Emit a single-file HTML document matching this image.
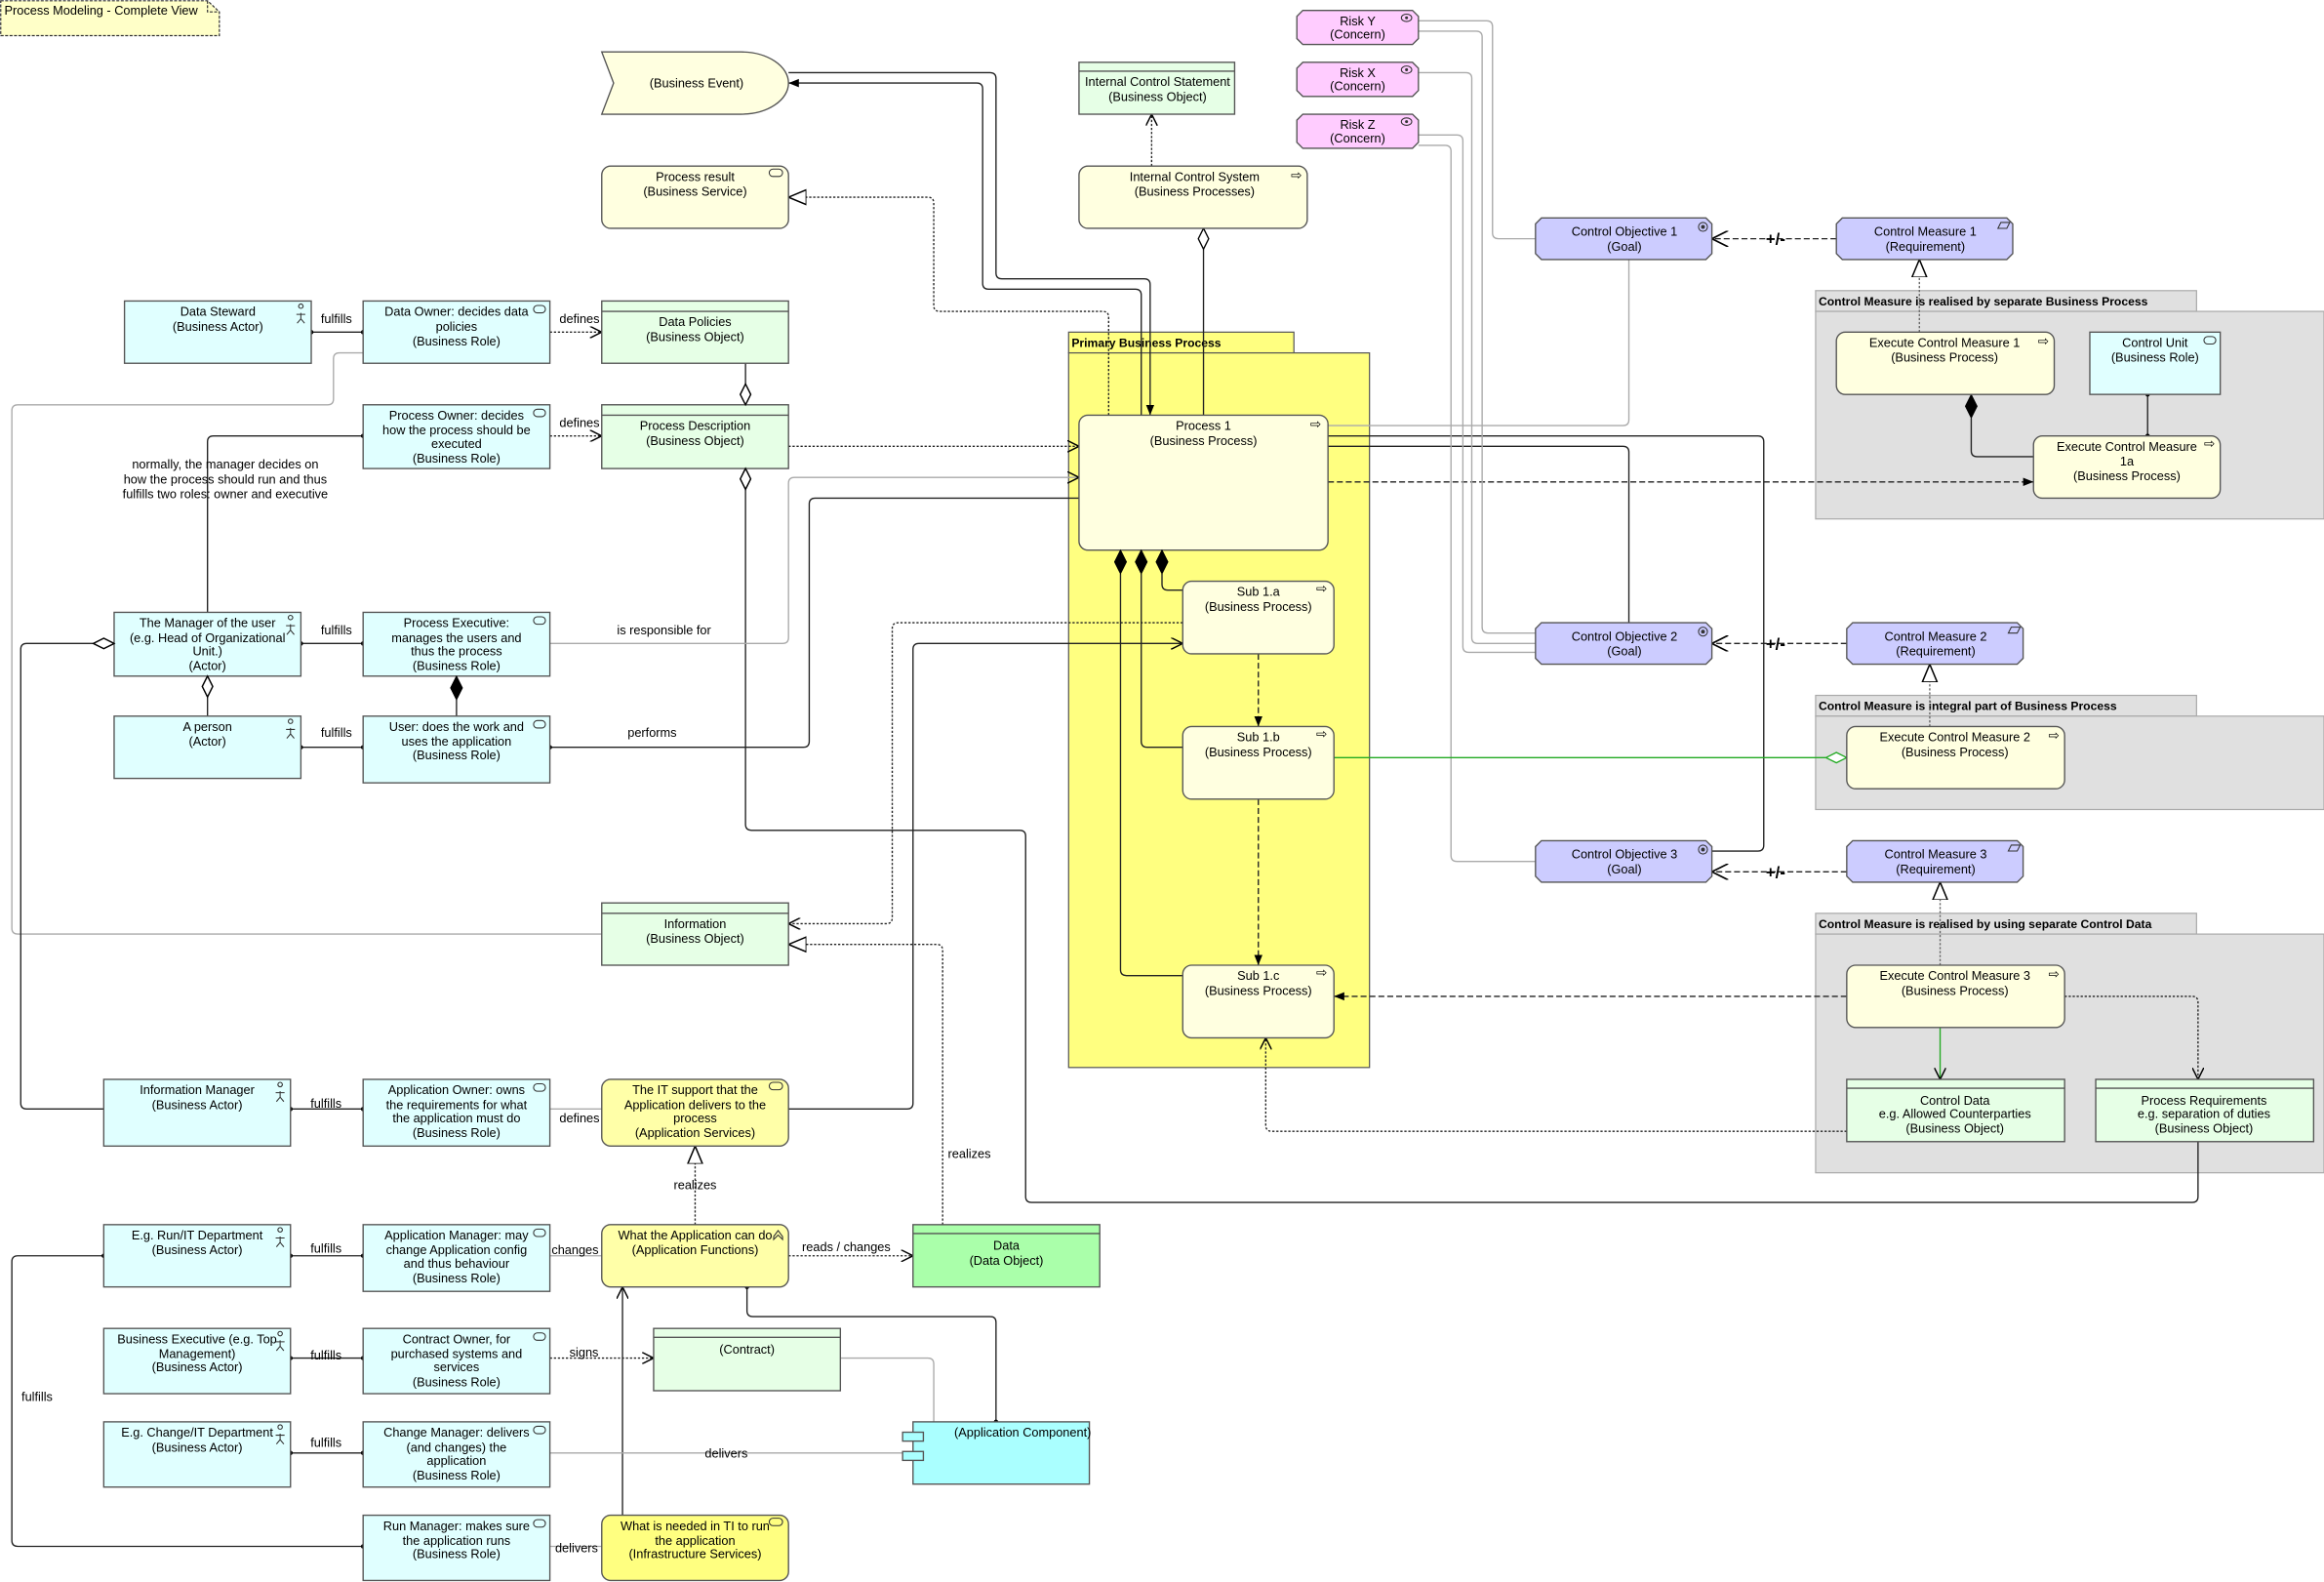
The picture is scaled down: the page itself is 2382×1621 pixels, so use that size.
<!DOCTYPE html>
<html><head><meta charset="utf-8"><style>
html,body{margin:0;padding:0;background:#fff;}
svg{display:block;}
text{font-family:"Liberation Sans",sans-serif;font-size:8.4px;fill:#000;}
.t{text-anchor:middle;}
.b{font-weight:bold;font-size:8px;}
.n{stroke:#555;stroke-width:0.9;}
.c{fill:none;stroke:#222;stroke-width:0.9;}
.g{fill:none;stroke:#aaa;stroke-width:0.9;}
.d{stroke-dasharray:1.5 1.2;}
.ds{stroke-dasharray:4 2;}
.ic{fill:none;stroke:#333;stroke-width:0.7;}
.dh{fill:#fff;stroke:#000;stroke-width:0.9;}
.dfl{fill:#000;stroke:#000;stroke-width:0.5;}
</style></head><body>
<svg width="2382" height="1621" viewBox="0 0 1568 1067" xmlns="http://www.w3.org/2000/svg">
<defs>
<marker id="af" viewBox="0 0 10 10" refX="10" refY="5" markerWidth="7" markerHeight="7" markerUnits="userSpaceOnUse" orient="auto"><path d="M0,1 L10,5 L0,9 z" fill="#000"/></marker>
<marker id="ao" viewBox="0 0 10 10" refX="10" refY="5" markerWidth="8" markerHeight="8" markerUnits="userSpaceOnUse" orient="auto"><path d="M0,0 L10,5 L0,10" fill="none" stroke="#000" stroke-width="1.2"/></marker>
<marker id="aob" viewBox="0 0 10 10" refX="10" refY="5" markerWidth="11" markerHeight="11" markerUnits="userSpaceOnUse" orient="auto"><path d="M0,0 L10,5 L0,10" fill="none" stroke="#000" stroke-width="1"/></marker>
<marker id="tri" viewBox="0 0 12 12" refX="12" refY="6" markerWidth="12" markerHeight="12" markerUnits="userSpaceOnUse" orient="auto"><path d="M0,1 L12,6 L0,11 z" fill="#fff" stroke="#000" stroke-width="1"/></marker>
<marker id="dot" viewBox="0 0 4 4" refX="2" refY="2" markerWidth="3" markerHeight="3" markerUnits="userSpaceOnUse"><circle cx="2" cy="2" r="2" fill="#000"/></marker>
</defs>

<!-- note -->
<path d="M0.5,0.5 H140 L148,8 V24 H0.5 Z" fill="#ffffc8" stroke="#333" stroke-dasharray="2 1" stroke-width="0.8"/>
<path d="M140,0.5 V8 H148" fill="none" stroke="#333" stroke-dasharray="2 1" stroke-width="0.8"/>
<text x="3" y="10">Process Modeling - Complete View</text>

<!-- groups -->
<rect x="721" y="224" width="152" height="14" fill="#ffff80" stroke="#555" stroke-width="0.8"/>
<rect x="721" y="238" width="203" height="482" fill="#ffff80" stroke="#555" stroke-width="0.8"/>
<text x="723" y="234" class="b">Primary Business Process</text>
<rect x="1225" y="196" width="257" height="14" fill="#e0e0e0" stroke="#aaa" stroke-width="0.8"/>
<rect x="1225" y="210" width="343" height="140" fill="#e0e0e0" stroke="#aaa" stroke-width="0.8"/>
<text x="1227" y="206" class="b">Control Measure is realised by separate Business Process</text>
<rect x="1225" y="469" width="257" height="14" fill="#e0e0e0" stroke="#aaa" stroke-width="0.8"/>
<rect x="1225" y="483" width="343" height="63" fill="#e0e0e0" stroke="#aaa" stroke-width="0.8"/>
<text x="1227" y="479" class="b">Control Measure is integral part of Business Process</text>
<rect x="1225" y="616" width="257" height="14" fill="#e0e0e0" stroke="#aaa" stroke-width="0.8"/>
<rect x="1225" y="630" width="343" height="161" fill="#e0e0e0" stroke="#aaa" stroke-width="0.8"/>
<text x="1227" y="626" class="b">Control Measure is realised by using separate Control Data</text>

<!-- connectors -->
<path class="c" d="M532,49 H668 Q672,49 672,53 V184 Q672,188 676,188 H772 Q776,188 776,192 V280" marker-end="url(#af)"/>
<path class="c" d="M770,280 V199 Q770,195 766,195 H667 Q663,195 663,191 V60 Q663,56 659,56 H532" marker-end="url(#af)"/>
<path class="c d" d="M777,112 V77" marker-end="url(#ao)"/>
<path class="c" d="M812,168 V280"/>
<path class="c d" d="M748,280 V214 Q748,210 744,210 H634 Q630,210 630,206 V137 Q630,133 626,133 H532" marker-end="url(#tri)"/>
<path class="c" d="M210,224 H245" marker-start="url(#dot)" marker-end="url(#dot)"/>
<text x="227" y="218" class="t">fulfills</text>
<path class="c d" d="M371,224 H406" marker-end="url(#ao)"/>
<text x="391" y="218" class="t">defines</text>
<path class="c" d="M503,245 V259"/>
<path class="c" d="M503,330 V556 Q503,560 507,560 H688 Q692,560 692,564 V807 Q692,811 696,811 H1479 Q1483,811 1483,807 V770"/>
<path class="c d" d="M532,301 H728" marker-end="url(#ao)"/>
<path class="g" d="M245,238 H229 Q225,238 225,242 V269 Q225,273 221,273 H12 Q8,273 8,277 V626 Q8,630 12,630 H406"/>
<path class="c" d="M245,294 H144 Q140,294 140,298 V413" marker-start="url(#dot)"/>
<text x="152" y="316" class="t">normally, the manager decides on</text>
<text x="152" y="326" class="t">how the process should run and thus</text>
<text x="152" y="336" class="t">fulfills two roles: owner and executive</text>
<path class="c d" d="M371,294 H406" marker-end="url(#ao)"/>
<text x="391" y="288" class="t">defines</text>
<path class="c" d="M203,434 H245" marker-start="url(#dot)" marker-end="url(#dot)"/>
<text x="227" y="428" class="t">fulfills</text>
<path class="g" d="M371,434 H528 Q532,434 532,430 V326 Q532,322 536,322 H728" marker-end="url(#ao)"/>
<text x="448" y="428" class="t">is responsible for</text>
<path class="c" d="M140,470 V483"/>
<path class="c" d="M203,504 H245" marker-start="url(#dot)" marker-end="url(#dot)"/>
<text x="227" y="497" class="t">fulfills</text>
<path class="c" d="M308,472 V483"/>
<path class="c" d="M371,504 H542 Q546,504 546,500 V340 Q546,336 550,336 H728" marker-start="url(#dot)"/>
<text x="440" y="497" class="t">performs</text>
<path class="c" d="M70,748 H18 Q14,748 14,744 V438 Q14,434 18,434 H63"/>
<path class="c" d="M756,387 V654 Q756,658 760,658 H798"/>
<path class="c" d="M770,387 V500 Q770,504 774,504 H798"/>
<path class="c" d="M784,387 V394 Q784,398 788,398 H798"/>
<path class="c ds" d="M849,441 V490" marker-end="url(#af)"/>
<path class="c ds" d="M849,539 V651" marker-end="url(#af)"/>
<path class="c" d="M532,748 H612 Q616,748 616,744 V438 Q616,434 620,434 H798" marker-end="url(#ao)"/>
<path class="c d" d="M798,420 H606 Q602,420 602,424 V619 Q602,623 598,623 H532" marker-end="url(#ao)"/>
<path class="c d" d="M636,826 V641 Q636,637 632,637 H532" marker-end="url(#tri)"/>
<path class="c ds" d="M896,325 H1372" marker-end="url(#af)"/>
<path class="g" d="M896,287 H1095 Q1099,287 1099,283 V175"/>
<path class="c" d="M896,301 H1095 Q1099,301 1099,305 V420"/>
<path class="c" d="M896,294 H1186 Q1190,294 1190,298 V570 Q1190,574 1186,574 H1155"/>
<path class="g" d="M957,14 H1003 Q1007,14 1007,18 V157 Q1007,161 1011,161 H1036"/>
<path class="g" d="M957,21 H996 Q1000,21 1000,25 V423 Q1000,427 1004,427 H1036"/>
<path class="g" d="M957,49 H989 Q993,49 993,53 V430 Q993,434 997,434 H1036"/>
<path class="g" d="M957,91 H983 Q987,91 987,95 V436 Q987,440 991,440 H1036"/>
<path class="g" d="M957,98 H975 Q979,98 979,102 V577 Q979,581 983,581 H1036"/>
<path class="c ds" d="M1239,161 H1155" marker-end="url(#aob)"/>
<text x="1198" y="165" class="t" style="font-size:11px;font-weight:bold">+/-</text>
<path class="c ds" d="M1246,434 H1155" marker-end="url(#aob)"/>
<text x="1198" y="438" class="t" style="font-size:11px;font-weight:bold">+/-</text>
<path class="c ds" d="M1246,588 H1155" marker-end="url(#aob)"/>
<text x="1198" y="592" class="t" style="font-size:11px;font-weight:bold">+/-</text>
<path class="c d" style="stroke:#666" d="M1295,224 V175" marker-end="url(#tri)"/>
<path class="c" d="M1330,282 V304 Q1330,308 1334,308 H1372"/>
<path class="c" d="M1449,266 V294" marker-start="url(#dot)" marker-end="url(#dot)"/>
<path class="c d" style="stroke:#666" d="M1302,490 V448" marker-end="url(#tri)"/>
<path class="c" style="stroke:#2a2" d="M900,511 H1232"/>
<path class="c d" style="stroke:#666" d="M1309,651 V595" marker-end="url(#tri)"/>
<path class="c ds" d="M1246,672 H900" marker-end="url(#af)"/>
<path class="c" style="stroke:#2a2" d="M1309,693 V728" marker-end="url(#ao)"/>
<path class="c d" d="M1393,672 H1479 Q1483,672 1483,676 V728" marker-end="url(#ao)"/>
<path class="c d" d="M1246,763 H858 Q854,763 854,759 V700" marker-end="url(#ao)"/>
<path class="c" d="M196,748 H245" marker-start="url(#dot)" marker-end="url(#dot)"/>
<text x="220" y="747" class="t">fulfills</text>
<path class="g" d="M371,748 H406"/>
<text x="391" y="757" class="t">defines</text>
<path class="c d" d="M469,826 V773" marker-end="url(#tri)"/>
<text x="469" y="802" class="t">realizes</text>
<text x="654" y="781" class="t">realizes</text>
<path class="c" d="M196,847 H245" marker-start="url(#dot)" marker-end="url(#dot)"/>
<text x="220" y="845" class="t">fulfills</text>
<path class="g" d="M371,847 H406"/>
<text x="388" y="846" class="t">changes</text>
<path class="c d" d="M532,847 H616" marker-end="url(#ao)"/>
<text x="571" y="844" class="t">reads / changes</text>
<path class="c" d="M504,868 V884 Q504,888 508,888 H668 Q672,888 672,892 V959" marker-start="url(#dot)" marker-end="url(#dot)"/>
<path class="c" d="M420,1022 V868" marker-end="url(#ao)"/>
<path class="c" d="M196,916 H245" marker-start="url(#dot)" marker-end="url(#dot)"/>
<text x="220" y="917" class="t">fulfills</text>
<path class="c d" d="M371,916 H441" marker-end="url(#ao)"/>
<text x="394" y="915" class="t">signs</text>
<path class="g" d="M567,916 H626 Q630,916 630,920 V959"/>
<path class="c" d="M196,980 H245" marker-start="url(#dot)" marker-end="url(#dot)"/>
<text x="220" y="976" class="t">fulfills</text>
<path class="g" d="M371,980 H609"/>
<text x="490" y="983" class="t">delivers</text>
<path class="g" d="M371,1043 H406"/>
<text x="389" y="1047" class="t">delivers</text>
<path class="c" d="M70,847 H12 Q8,847 8,851 V1039 Q8,1043 12,1043 H245" marker-start="url(#dot)" marker-end="url(#dot)"/>
<text x="25" y="945" class="t">fulfills</text>

<!-- diamonds -->
<path class="dh" d="M812,154 l3.5,7 l-3.5,7 l-3.5,-7 z"/>
<path class="dh" d="M503,259 l3.5,7 l-3.5,7 l-3.5,-7 z"/>
<path class="dh" d="M503,316 l3.5,7 l-3.5,7 l-3.5,-7 z"/>
<path class="dh" d="M140,456 l3.5,7 l-3.5,7 l-3.5,-7 z"/>
<path class="dh" d="M77,434 l-7,3.5 l-7,-3.5 l7,-3.5 z"/>
<path class="dh" style="stroke:#2a2" d="M1246,511 l-7,3.5 l-7,-3.5 l7,-3.5 z"/>
<path class="dfl" d="M308,456 l4,8 l-4,8 l-4,-8 z"/>
<path class="dfl" d="M756,371 l4,8 l-4,8 l-4,-8 z"/>
<path class="dfl" d="M770,371 l4,8 l-4,8 l-4,-8 z"/>
<path class="dfl" d="M784,371 l4,8 l-4,8 l-4,-8 z"/>
<path class="dfl" d="M1330,266 l4,8 l-4,8 l-4,-8 z"/>

<!-- nodes -->
<path d="M406,35 H500 A32,21 0 0 1 500,77 H406 L414,56 Z" fill="#ffffe0" class="n"/>
<text x="470" y="59" class="t">(Business Event)</text>
<rect x="728" y="42" width="105" height="35" fill="#e6ffe6" class="n"/><line x1="728" y1="48" x2="833" y2="48" class="n"/>
<text x="781" y="58" class="t">Internal Control Statement</text><text x="781" y="68" class="t">(Business Object)</text>
<g fill="#ffccff" class="n">
<path d="M879,7 H953 L957,11 V26 L953,30 H879 L875,26 V11 Z"/>
<path d="M879,42 H953 L957,46 V61 L953,65 H879 L875,61 V46 Z"/>
<path d="M879,77 H953 L957,81 V96 L953,100 H879 L875,96 V81 Z"/>
</g>
<text x="916" y="17" class="t">Risk Y</text><text x="916" y="26" class="t">(Concern)</text>
<text x="916" y="52" class="t">Risk X</text><text x="916" y="61" class="t">(Concern)</text>
<text x="916" y="87" class="t">Risk Z</text><text x="916" y="96" class="t">(Concern)</text>
<g class="ic"><ellipse cx="949" cy="12" rx="3.5" ry="2.5"/><ellipse cx="949" cy="47" rx="3.5" ry="2.5"/><ellipse cx="949" cy="82" rx="3.5" ry="2.5"/></g>
<g fill="#333"><circle cx="949" cy="12" r="1"/><circle cx="949" cy="47" r="1"/><circle cx="949" cy="82" r="1"/></g>
<rect x="406" y="112" width="126" height="42" rx="6" fill="#ffffe0" class="n"/>
<text x="469" y="122" class="t">Process result</text><text x="469" y="132" class="t">(Business Service)</text>
<rect x="519" y="114" width="9" height="5" rx="2.5" class="ic"/>
<rect x="728" y="112" width="154" height="42" rx="6" fill="#ffffe0" class="n"/>
<text x="806" y="122" class="t">Internal Control System</text><text x="806" y="132" class="t">(Business Processes)</text>
<text x="871" y="121" style="font-size:9px">⇨</text>
<g fill="#ccccff" class="n">
<path d="M1040,147 H1151 L1155,151 V171 L1151,175 H1040 L1036,171 V151 Z"/>
<path d="M1243,147 H1354 L1358,151 V171 L1354,175 H1243 L1239,171 V151 Z"/>
<path d="M1040,420 H1151 L1155,424 V444 L1151,448 H1040 L1036,444 V424 Z"/>
<path d="M1250,420 H1361 L1365,424 V444 L1361,448 H1250 L1246,444 V424 Z"/>
<path d="M1040,567 H1151 L1155,571 V591 L1151,595 H1040 L1036,591 V571 Z"/>
<path d="M1250,567 H1361 L1365,571 V591 L1361,595 H1250 L1246,591 V571 Z"/>
</g>
<text x="1096" y="159" class="t">Control Objective 1</text><text x="1096" y="169" class="t">(Goal)</text>
<text x="1299" y="159" class="t">Control Measure 1</text><text x="1299" y="169" class="t">(Requirement)</text>
<text x="1096" y="432" class="t">Control Objective 2</text><text x="1096" y="442" class="t">(Goal)</text>
<text x="1306" y="432" class="t">Control Measure 2</text><text x="1306" y="442" class="t">(Requirement)</text>
<text x="1096" y="579" class="t">Control Objective 3</text><text x="1096" y="589" class="t">(Goal)</text>
<text x="1306" y="579" class="t">Control Measure 3</text><text x="1306" y="589" class="t">(Requirement)</text>
<g class="ic"><circle cx="1149" cy="153" r="3"/><circle cx="1149" cy="426" r="3"/><circle cx="1149" cy="573" r="3"/></g>
<g fill="#333"><circle cx="1149" cy="153" r="1.3"/><circle cx="1149" cy="426" r="1.3"/><circle cx="1149" cy="573" r="1.3"/></g>
<g class="ic"><path d="M1350,150 h6 l-2,4 h-6 z"/><path d="M1357,423 h6 l-2,4 h-6 z"/><path d="M1357,570 h6 l-2,4 h-6 z"/></g>
<rect x="1239" y="224" width="147" height="42" rx="6" fill="#ffffe0" class="n"/>
<text x="1312" y="234" class="t">Execute Control Measure 1</text><text x="1312" y="244" class="t">(Business Process)</text>
<text x="1375" y="233" style="font-size:9px">⇨</text>
<rect x="1410" y="224" width="88" height="42" fill="#e0ffff" class="n"/>
<text x="1454" y="234" class="t">Control Unit</text><text x="1454" y="244" class="t">(Business Role)</text>
<rect x="1487" y="227" width="8" height="5" rx="2.5" class="ic"/>
<rect x="1372" y="294" width="126" height="42" rx="6" fill="#ffffe0" class="n"/>
<text x="1435" y="304" class="t">Execute Control Measure</text><text x="1435" y="314" class="t">1a</text><text x="1435" y="324" class="t">(Business Process)</text>
<text x="1487" y="302" style="font-size:9px">⇨</text>
<rect x="1246" y="490" width="147" height="42" rx="6" fill="#ffffe0" class="n"/>
<text x="1319" y="500" class="t">Execute Control Measure 2</text><text x="1319" y="510" class="t">(Business Process)</text>
<text x="1382" y="499" style="font-size:9px">⇨</text>
<rect x="1246" y="651" width="147" height="42" rx="6" fill="#ffffe0" class="n"/>
<text x="1319" y="661" class="t">Execute Control Measure 3</text><text x="1319" y="671" class="t">(Business Process)</text>
<text x="1382" y="660" style="font-size:9px">⇨</text>
<rect x="1246" y="728" width="147" height="42" fill="#e6ffe6" class="n"/><line x1="1246" y1="734" x2="1393" y2="734" class="n"/>
<text x="1319" y="745" class="t">Control Data</text><text x="1319" y="754" class="t">e.g. Allowed Counterparties</text><text x="1319" y="764" class="t">(Business Object)</text>
<rect x="1414" y="728" width="147" height="42" fill="#e6ffe6" class="n"/><line x1="1414" y1="734" x2="1561" y2="734" class="n"/>
<text x="1487" y="745" class="t">Process Requirements</text><text x="1487" y="754" class="t">e.g. separation of duties</text><text x="1487" y="764" class="t">(Business Object)</text>
<rect x="728" y="280" width="168" height="91" rx="6" fill="#ffffe0" class="n"/>
<text x="812" y="290" class="t">Process 1</text><text x="812" y="300" class="t">(Business Process)</text>
<text x="884" y="289" style="font-size:9px">⇨</text>
<path class="dfl" d="M756,371 l4,8 l-4,8 l-4,-8 z"/>
<path class="dfl" d="M770,371 l4,8 l-4,8 l-4,-8 z"/>
<path class="dfl" d="M784,371 l4,8 l-4,8 l-4,-8 z"/>
<rect x="798" y="392" width="102" height="49" rx="6" fill="#ffffe0" class="n"/>
<text x="849" y="402" class="t">Sub 1.a</text><text x="849" y="412" class="t">(Business Process)</text>
<text x="888" y="400" style="font-size:9px">⇨</text>
<rect x="798" y="490" width="102" height="49" rx="6" fill="#ffffe0" class="n"/>
<text x="849" y="500" class="t">Sub 1.b</text><text x="849" y="510" class="t">(Business Process)</text>
<text x="888" y="498" style="font-size:9px">⇨</text>
<rect x="798" y="651" width="102" height="49" rx="6" fill="#ffffe0" class="n"/>
<text x="849" y="661" class="t">Sub 1.c</text><text x="849" y="671" class="t">(Business Process)</text>
<text x="888" y="659" style="font-size:9px">⇨</text>
<g fill="#e0ffff" class="n">
<rect x="84" y="203" width="126" height="42"/>
<rect x="245" y="203" width="126" height="42"/>
<rect x="245" y="273" width="126" height="43"/>
<rect x="77" y="413" width="126" height="43"/>
<rect x="245" y="413" width="126" height="43"/>
<rect x="77" y="483" width="126" height="42"/>
<rect x="245" y="483" width="126" height="45"/>
<rect x="70" y="728" width="126" height="45"/>
<rect x="245" y="728" width="126" height="45"/>
<rect x="70" y="826" width="126" height="42"/>
<rect x="245" y="826" width="126" height="45"/>
<rect x="70" y="896" width="126" height="44"/>
<rect x="245" y="896" width="126" height="44"/>
<rect x="70" y="959" width="126" height="44"/>
<rect x="245" y="959" width="126" height="44"/>
<rect x="245" y="1022" width="126" height="44"/>
</g>
<path class="dh" d="M140,456 l3.5,7 l-3.5,7 l-3.5,-7 z"/>
<path class="dfl" d="M308,456 l4,8 l-4,8 l-4,-8 z"/>
<path class="dh" d="M77,434 l-7,3.5 l-7,-3.5 l7,-3.5 z"/>
<text x="147" y="213" class="t">Data Steward</text><text x="147" y="223" class="t">(Business Actor)</text>
<text x="308" y="213" class="t">Data Owner: decides data</text><text x="308" y="223" class="t">policies</text><text x="308" y="233" class="t">(Business Role)</text>
<text x="308" y="283" class="t">Process Owner: decides</text><text x="308" y="293" class="t">how the process should be</text><text x="308" y="302" class="t">executed</text><text x="308" y="312" class="t">(Business Role)</text>
<text x="140" y="423" class="t">The Manager of the user</text><text x="140" y="433" class="t">(e.g. Head of Organizational</text><text x="140" y="442" class="t">Unit.)</text><text x="140" y="452" class="t">(Actor)</text>
<text x="308" y="423" class="t">Process Executive:</text><text x="308" y="433" class="t">manages the users and</text><text x="308" y="442" class="t">thus the process</text><text x="308" y="452" class="t">(Business Role)</text>
<text x="140" y="493" class="t">A person</text><text x="140" y="503" class="t">(Actor)</text>
<text x="308" y="493" class="t">User: does the work and</text><text x="308" y="503" class="t">uses the application</text><text x="308" y="512" class="t">(Business Role)</text>
<text x="133" y="738" class="t">Information Manager</text><text x="133" y="748" class="t">(Business Actor)</text>
<text x="308" y="738" class="t">Application Owner: owns</text><text x="308" y="748" class="t">the requirements for what</text><text x="308" y="757" class="t">the application must do</text><text x="308" y="767" class="t">(Business Role)</text>
<text x="133" y="836" class="t">E.g. Run/IT Department</text><text x="133" y="846" class="t">(Business Actor)</text>
<text x="308" y="836" class="t">Application Manager: may</text><text x="308" y="846" class="t">change Application config</text><text x="308" y="855" class="t">and thus behaviour</text><text x="308" y="865" class="t">(Business Role)</text>
<text x="133" y="906" class="t">Business Executive (e.g. Top</text><text x="133" y="916" class="t">Management)</text><text x="133" y="925" class="t">(Business Actor)</text>
<text x="308" y="906" class="t">Contract Owner, for</text><text x="308" y="916" class="t">purchased systems and</text><text x="308" y="925" class="t">services</text><text x="308" y="935" class="t">(Business Role)</text>
<text x="133" y="969" class="t">E.g. Change/IT Department</text><text x="133" y="979" class="t">(Business Actor)</text>
<text x="308" y="969" class="t">Change Manager: delivers</text><text x="308" y="979" class="t">(and changes) the</text><text x="308" y="988" class="t">application</text><text x="308" y="998" class="t">(Business Role)</text>
<text x="308" y="1032" class="t">Run Manager: makes sure</text><text x="308" y="1042" class="t">the application runs</text><text x="308" y="1051" class="t">(Business Role)</text>
<g class="ic">
<rect x="360" y="206" width="8" height="5" rx="2.5"/><rect x="360" y="276" width="8" height="5" rx="2.5"/><rect x="360" y="416" width="8" height="5" rx="2.5"/>
<rect x="360" y="486" width="8" height="5" rx="2.5"/><rect x="360" y="731" width="8" height="5" rx="2.5"/><rect x="360" y="829" width="8" height="5" rx="2.5"/>
<rect x="360" y="899" width="8" height="5" rx="2.5"/><rect x="360" y="962" width="8" height="5" rx="2.5"/><rect x="360" y="1025" width="8" height="5" rx="2.5"/>
</g>
<g class="ic">
<path d="M203,208 a1.5,1.5 0 1 1 0.01,0 M203,211 v4 M200,212 h6 M203,215 l-2.5,3 M203,215 l2.5,3"/>
<path d="M196,418 a1.5,1.5 0 1 1 0.01,0 M196,421 v4 M193,422 h6 M196,425 l-2.5,3 M196,425 l2.5,3"/>
<path d="M196,488 a1.5,1.5 0 1 1 0.01,0 M196,491 v4 M193,492 h6 M196,495 l-2.5,3 M196,495 l2.5,3"/>
<path d="M189,733 a1.5,1.5 0 1 1 0.01,0 M189,736 v4 M186,737 h6 M189,740 l-2.5,3 M189,740 l2.5,3"/>
<path d="M189,831 a1.5,1.5 0 1 1 0.01,0 M189,834 v4 M186,835 h6 M189,838 l-2.5,3 M189,838 l2.5,3"/>
<path d="M189,901 a1.5,1.5 0 1 1 0.01,0 M189,904 v4 M186,905 h6 M189,908 l-2.5,3 M189,908 l2.5,3"/>
<path d="M189,964 a1.5,1.5 0 1 1 0.01,0 M189,967 v4 M186,968 h6 M189,971 l-2.5,3 M189,971 l2.5,3"/>
</g>
<g fill="#e6ffe6" class="n">
<rect x="406" y="203" width="126" height="42"/><rect x="406" y="273" width="126" height="43"/><rect x="406" y="609" width="126" height="42"/><rect x="441" y="896" width="126" height="42"/>
</g>
<g class="n"><line x1="406" y1="210" x2="532" y2="210"/><line x1="406" y1="280" x2="532" y2="280"/><line x1="406" y1="616" x2="532" y2="616"/><line x1="441" y1="902" x2="567" y2="902"/></g>
<path class="dh" d="M503,259 l3.5,7 l-3.5,7 l-3.5,-7 z"/>
<path class="dh" d="M503,316 l3.5,7 l-3.5,7 l-3.5,-7 z"/>
<text x="469" y="220" class="t">Data Policies</text><text x="469" y="230" class="t">(Business Object)</text>
<text x="469" y="290" class="t">Process Description</text><text x="469" y="300" class="t">(Business Object)</text>
<text x="469" y="626" class="t">Information</text><text x="469" y="636" class="t">(Business Object)</text>
<text x="504" y="913" class="t">(Contract)</text>
<rect x="406" y="728" width="126" height="45" rx="6" fill="#ffffa8" class="n"/>
<text x="469" y="738" class="t">The IT support that the</text><text x="469" y="748" class="t">Application delivers to the</text><text x="469" y="757" class="t">process</text><text x="469" y="767" class="t">(Application Services)</text>
<rect x="519" y="730" width="9" height="5" rx="2.5" class="ic"/>
<rect x="406" y="826" width="126" height="42" rx="6" fill="#ffffa8" class="n"/>
<text x="469" y="836" class="t">What the Application can do</text><text x="469" y="846" class="t">(Application Functions)</text>
<path d="M522,834 l3,-4 l3,4 v2 l-3,-3 l-3,3 z" class="ic"/>
<rect x="616" y="826" width="126" height="42" fill="#aaffaa" class="n"/><line x1="616" y1="832" x2="742" y2="832" class="n"/>
<text x="679" y="843" class="t">Data</text><text x="679" y="853" class="t">(Data Object)</text>
<rect x="616" y="959" width="119" height="42" fill="#aaffff" class="n"/>
<rect x="609" y="966" width="14" height="6" fill="#aaffff" class="n"/><rect x="609" y="979" width="14" height="6" fill="#aaffff" class="n"/>
<text x="690" y="969" class="t">(Application Component)</text>
<rect x="406" y="1022" width="126" height="44" rx="6" fill="#ffff80" class="n"/>
<text x="469" y="1032" class="t">What is needed in TI to run</text><text x="469" y="1042" class="t">the application</text><text x="469" y="1051" class="t">(Infrastructure Services)</text>
<rect x="519" y="1024" width="9" height="5" rx="2.5" class="ic"/>
</svg>
</body></html>
